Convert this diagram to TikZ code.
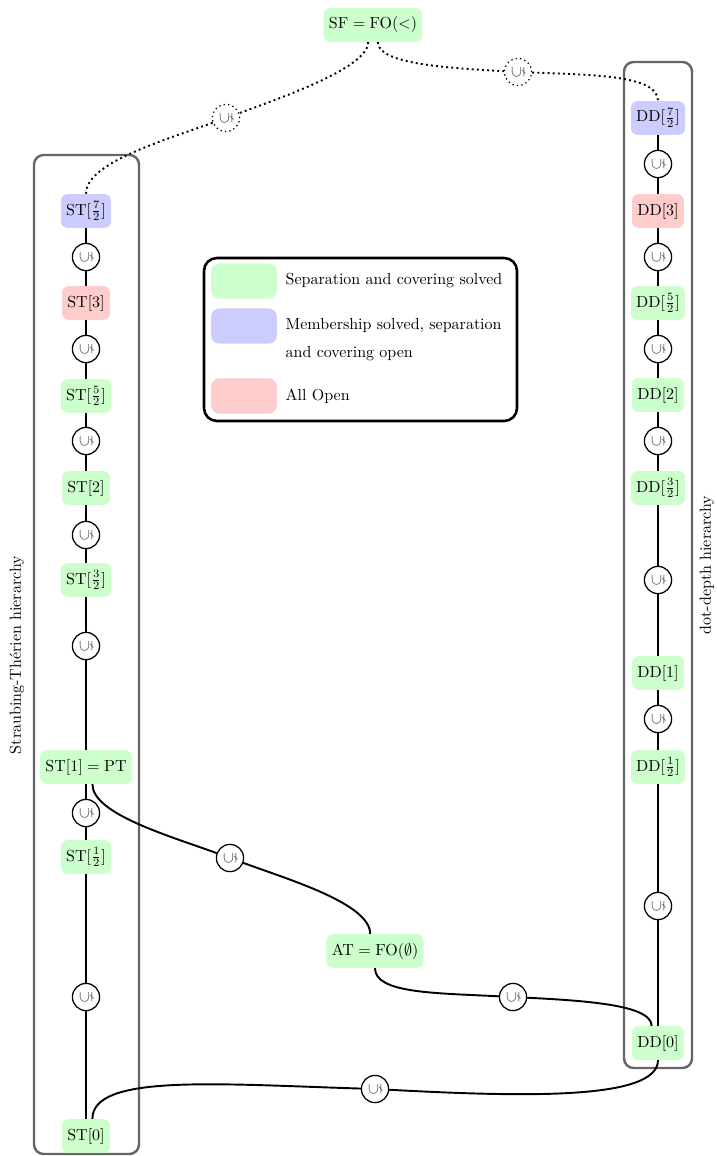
\documentclass[tikz,border=0pt]{standalone}
\usepackage{amsmath,amssymb}
\usepackage{tikz}
\usetikzlibrary{calc}
\tikzset{
  cls/.style={rounded corners=4pt,minimum height=21pt,inner sep=3.3pt},
  solved/.style={cls,fill=green!20},
  membership/.style={cls,fill=blue!20},
  allopen/.style={cls,fill=red!20},
  incl/.style={circle,draw,thick,fill=white,inner sep=0pt,minimum size=17pt,text=black!75},
  conn/.style={line width=1.2pt},
  hier/.style={draw=black!60,line width=1.5pt,rounded corners=6pt},
  swatch/.style={rounded corners=5pt,minimum width=41pt,minimum height=22pt},
}
\newcommand{\sincl}{\rotatebox{90}{$\subsetneq$}}

\begin{document}
\begin{tikzpicture}[x=0.625pt,y=-0.625pt]
  \useasboundingbox (0,0) rectangle (716,1156);
  %枠
  \draw[hier] (34,155) rectangle (139,1154);
  \draw[hier] (624,62) rectangle (692,1068);
  \node[rotate=90] (stlabel) at (17,655) {Straubing-Th\'erien hierarchy};
  \node[rotate=90] (ddlabel) at (707,565) {dot-depth hierarchy};
  %上と中央
  \node[solved] (SF) at (373,25) {SF${}={}$FO$(<)$};
  \node[solved] (AT) at (375,951) {AT${}={}$FO$(\emptyset)$};
  %Straubing-Therien
  \node[membership] (ST72) at (86,211) {ST$[\frac{7}{2}]$};
  \node[incl] (s1) at (86,257) {\sincl};
  \node[allopen] (ST3) at (86,303) {ST$[3]$};
  \node[incl] (s2) at (86,349) {\sincl};
  \node[solved] (ST52) at (86,396) {ST$[\frac{5}{2}]$};
  \node[incl] (s3) at (86,441) {\sincl};
  \node[solved] (ST2) at (86,488) {ST$[2]$};
  \node[incl] (s4) at (86,535) {\sincl};
  \node[solved] (ST32) at (86,580) {ST$[\frac{3}{2}]$};
  \node[incl] (s5) at (86,646) {\sincl};
  \node[solved] (ST1) at (86,767) {ST$[1]={}$PT};
  \node[incl] (s6) at (86,813) {\sincl};
  \node[solved] (ST12) at (86,857) {ST$[\frac{1}{2}]$};
  \node[incl] (s7) at (86,997) {\sincl};
  \node[solved] (ST0) at (86,1136) {ST$[0]$};
  %dot-depth
  \node[membership] (DD72) at (658,118) {DD$[\frac{7}{2}]$};
  \node[incl] (d1) at (658,164) {\sincl};
  \node[allopen] (DD3) at (658,211) {DD$[3]$};
  \node[incl] (d2) at (658,257) {\sincl};
  \node[solved] (DD52) at (658,303) {DD$[\frac{5}{2}]$};
  \node[incl] (d3) at (658,349) {\sincl};
  \node[solved] (DD2) at (658,395) {DD$[2]$};
  \node[incl] (d4) at (658,441) {\sincl};
  \node[solved] (DD32) at (658,488) {DD$[\frac{3}{2}]$};
  \node[incl] (d5) at (658,580) {\sincl};
  \node[solved] (DD1) at (658,673) {DD$[1]$};
  \node[incl] (d6) at (658,719) {\sincl};
  \node[solved] (DD12) at (658,767) {DD$[\frac{1}{2}]$};
  \node[incl] (d7) at (658,906) {\sincl};
  \node[solved] (DD0) at (658,1043) {DD$[0]$};
  %縦の線
  \draw[conn] (ST72)--(s1)--(ST3)--(s2)--(ST52)--(s3)--(ST2)--(s4)--(ST32)--(s5)--(ST1)--(s6)--(ST12)--(s7)--(ST0);
  \draw[conn] (DD72)--(d1)--(DD3)--(d2)--(DD52)--(d3)--(DD2)--(d4)--(DD32)--(d5)--(DD1)--(d6)--(DD12)--(d7)--(DD0);
  %点線
  \node[incl,dotted] (c1) at (226,118) {\sincl};
  \node[incl,dotted] (c2) at (518,72) {\sincl};
  \draw[conn,dotted] ([xshift=-3pt]SF.south) .. controls +(0,25) and +(60,-22) .. (c1);
  \draw[conn,dotted] (c1) .. controls +(-70,25) and +(0,-30) .. (ST72.north);
  \draw[conn,dotted] ([xshift=3pt]SF.south) .. controls +(0,22) and +(-70,-4) .. (c2);
  \draw[conn,dotted] (c2) .. controls +(80,3) and +(0,-25) .. (DD72.north);
  %曲線
  \node[incl] (a1) at (230,858) {\sincl};
  \node[incl] (a2) at (513,997) {\sincl};
  \node[incl] (a3) at (375,1089) {\sincl};
  \draw[conn] ([xshift=4pt]ST1.south) .. controls +(0,30) and +(-60,-22) .. (a1);
  \draw[conn] (a1) .. controls +(60,22) and +(0,-30) .. ([xshift=-3pt]AT.north);
  \draw[conn] (AT.south) .. controls +(0,25) and +(-80,-4) .. (a2);
  \draw[conn] (a2) .. controls +(80,4) and +(0,-20) .. ([xshift=-4pt]DD0.north);
  \draw[conn] ([xshift=4pt]ST0.north) .. controls +(0,-45) and +(-160,-5) .. (a3);
  \draw[conn] (a3) .. controls +(150,8) and +(0,40) .. (DD0.south);
  %凡例
  \draw[rounded corners=8pt,line width=1.6pt] (204,258) rectangle (517,421);
  \node[swatch,fill=green!20] (lg1) at (244,281) {};
  \node[anchor=west] (lt1) at (280,281) {Separation and covering solved};
  \node[swatch,fill=blue!20] (lg2) at (244,326) {};
  \node[anchor=west,align=left] (lt2) at (280,339.5) {Membership solved, separation\\[5pt]and covering open};
  \node[swatch,fill=red!20] (lg3) at (244,396) {};
  \node[anchor=west] (lt3) at (280,396) {All Open};
\end{tikzpicture}
\end{document}
